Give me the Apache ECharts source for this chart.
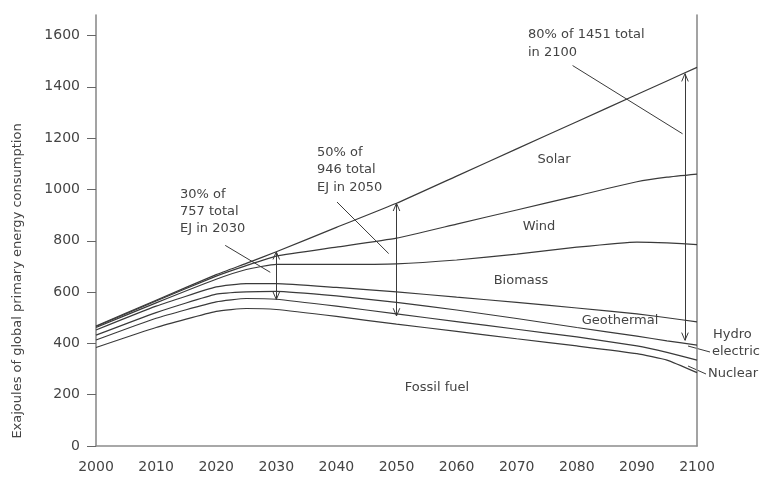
<!DOCTYPE html>
<html>
<head>
<meta charset="utf-8">
<script src="https://cdn.jsdelivr.net/npm/echarts@6/dist/echarts.min.js"></script>
<style>
  html, body { margin: 0; padding: 0; background: #fff; }
  #chart { width: 761px; height: 479px; }
</style>
</head>
<body>
<div id="chart"></div>
<script>
// Years sampled along each scenario curve
const years = [2000, 2010, 2020, 2025, 2030, 2040, 2050, 2060, 2070, 2080, 2090, 2095, 2100];

// Cumulative upper edge of each energy layer (EJ), bottom to top
const fossilTop     = [384, 462, 525, 536, 532, 505, 475, 447, 418, 390, 360, 335, 286];
const nuclearTop    = [413, 498, 562, 575, 572, 545, 515, 485, 455, 425, 390, 365, 335];
const hydroTop      = [432, 520, 592, 601, 603, 585, 560, 530, 497, 462, 428, 410, 393];
const geothermalTop = [452, 545, 620, 633, 633, 618, 601, 580, 560, 538, 515, 500, 484];
const biomassTop    = [462, 558, 650, 688, 708, 708, 710, 725, 748, 775, 795, 792, 785];
const windTop       = [466, 565, 662, 703, 740, 775, 810, 865, 920, 975, 1030, 1048, 1060];
const solarTop      = [468, 568, 668, 712, 757, 852, 946, 1052, 1158, 1264, 1370, 1423, 1476];

const layerTops = [fossilTop, nuclearTop, hydroTop, geothermalTop, biomassTop, windTop, solarTop];

// Y axis tick labels
const yTicks = [0, 200, 400, 600, 800, 1000, 1200, 1400, 1600];

// Renewable-share callouts: year, total demand, lower end of the bracket
const calloutYears   = [2030, 2050, 2098];
const calloutTotals  = [757, 946, 1451];
const calloutBottoms = [571, 507, 412];

// Leader lines from each callout text to its bracket: [year, EJ] pairs
const leaderStarts = [[2021.5, 782], [2040.1, 951], [2079.3, 1483]];
const leaderEnds   = [[2029.0, 677], [2048.7, 750], [2097.6, 1217]];

const FONT = 'DejaVu Sans';
const INK = '#3a3a3a';

// Open "V" arrowhead built from two short strokes (sizes in data units);
// pointUp = true puts the tip on top with the strokes trailing downward
function arrowHead(x, y, pointUp) {
  const dx = 0.55, dy = pointUp ? -30 : 30;
  return [
    [{ coord: [x, y] }, { coord: [x - dx, y + dy] }],
    [{ coord: [x, y] }, { coord: [x + dx, y + dy] }]
  ];
}

const annotationLines = [];
calloutYears.forEach((yr, i) => {
  annotationLines.push([{ coord: [yr, calloutTotals[i]] }, { coord: [yr, calloutBottoms[i]] }]);
  annotationLines.push(...arrowHead(yr, calloutTotals[i], true));
  annotationLines.push(...arrowHead(yr, calloutBottoms[i], false));
  annotationLines.push([{ coord: leaderStarts[i] }, { coord: leaderEnds[i] }]);
});

const lineSeries = layerTops.map(vals => ({
  type: 'line',
  data: years.map((y, i) => [y, vals[i]]),
  symbol: 'none',
  smooth: 0.15,
  lineStyle: { color: INK, width: 1.2 },
  z: 3
}));

lineSeries.push({
  type: 'line',
  data: [],
  symbol: 'none',
  clip: false,
  markLine: {
    silent: true,
    symbol: 'none',
    animation: false,
    label: { show: false },
    lineStyle: { color: INK, width: 1, type: 'solid' },
    data: annotationLines
  }
});

function txt(x, y, text, opts, extra) {
  return Object.assign({
    type: 'text',
    x: x, y: y,
    style: Object.assign({
      text: text,
      font: '13px "' + FONT + '"',
      fill: '#444',
      textVerticalAlign: 'middle'
    }, opts || {})
  }, extra || {});
}

const plain = v => String(v);

const chart = echarts.init(document.getElementById('chart'), null, { renderer: 'canvas' });
chart.setOption({
  animation: false,
  backgroundColor: '#fff',
  grid: { left: 96, right: 64, top: 15, bottom: 33 },
  xAxis: {
    type: 'value',
    min: 2000, max: 2100, interval: 10,
    axisLine: { lineStyle: { color: '#8c8c8c', width: 1.6 } },
    axisTick: { show: false },
    splitLine: { show: false },
    axisLabel: { color: '#444', fontFamily: FONT, fontSize: 14, margin: 14, formatter: plain }
  },
  yAxis: [{
    type: 'value',
    min: 0, max: 1680, interval: 200,
    axisLine: { show: true, lineStyle: { color: '#8c8c8c', width: 1.6 } },
    axisTick: { show: true, length: 9, customValues: yTicks, lineStyle: { color: '#666' } },
    splitLine: { show: false },
    axisLabel: { color: '#444', fontFamily: FONT, fontSize: 14, margin: 16, customValues: yTicks, formatter: plain }
  }, {
    type: 'value',
    position: 'right',
    min: 0, max: 1680,
    axisLine: { show: true, lineStyle: { color: '#8c8c8c', width: 1.6 } },
    axisTick: { show: false },
    axisLabel: { show: false },
    splitLine: { show: false }
  }],
  series: lineSeries,
  graphic: [
    txt(18, 281, 'Exajoules of global primary energy consumption',
      { font: '13px "' + FONT + '"', textAlign: 'center' },
      { rotation: Math.PI / 2 }),
    txt(180, 212, '30% of\n757 total\nEJ in 2030', { lineHeight: 17 }),
    txt(317, 170, '50% of\n946 total\nEJ in 2050', { lineHeight: 17.5 }),
    txt(528, 44, '80% of 1451 total\nin 2100', { lineHeight: 18 }),
    txt(554, 160, 'Solar', { textAlign: 'center' }),
    txt(539, 227, 'Wind', { textAlign: 'center' }),
    txt(521, 281, 'Biomass', { textAlign: 'center' }),
    txt(620, 321, 'Geothermal', { textAlign: 'center' }),
    txt(437, 388, 'Fossil fuel', { textAlign: 'center' }),
    txt(713, 335, 'Hydro'),
    txt(712, 352, 'electric'),
    txt(708, 374, 'Nuclear'),
    { type: 'line', shape: { x1: 688, y1: 346, x2: 710, y2: 352 }, style: { stroke: INK, lineWidth: 1 } },
    { type: 'line', shape: { x1: 688, y1: 366, x2: 706, y2: 374 }, style: { stroke: INK, lineWidth: 1 } }
  ]
});
</script>
</body>
</html>
